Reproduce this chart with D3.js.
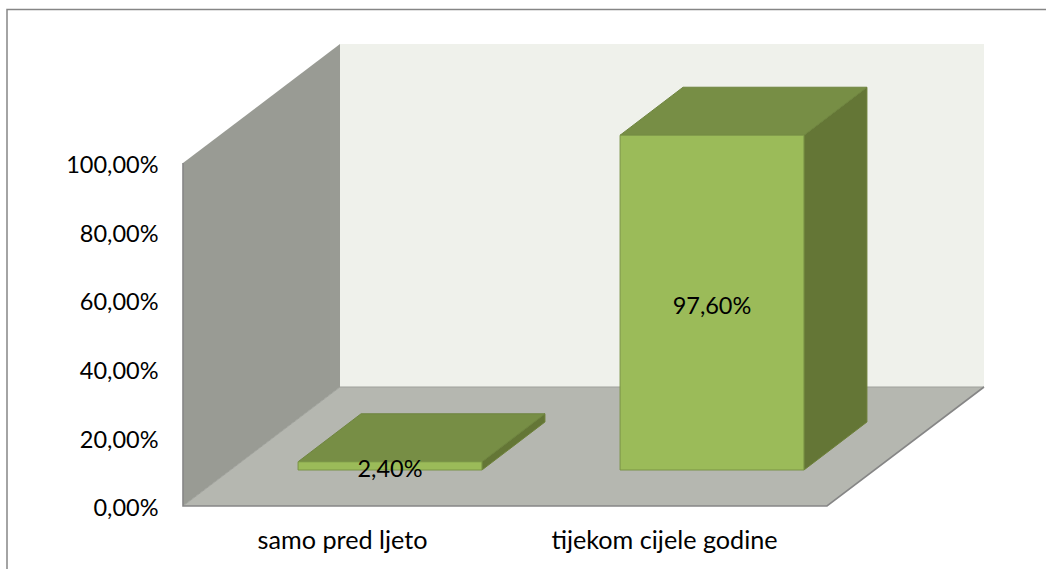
<!DOCTYPE html>
<html>
<head>
<meta charset="utf-8">
<script src="https://cdn.jsdelivr.net/npm/d3@7"></script>
<style>
html, body { margin: 0; padding: 0; background: #fff; }
text { font-family: Lato, "Open Sans", sans-serif; fill: #000; }
</style>
</head>
<body>
<svg id="chart" width="1046" height="569"></svg>
<script>
const categories = ['samo pred ljeto', 'tijekom cijele godine'];
const values = [2.4, 97.6];
const valueLabels = ['2,40%', '97,60%'];
const ticks = [0, 20, 40, 60, 80, 100];
const tickLabels = ['0,00%', '20,00%', '40,00%', '60,00%', '80,00%', '100,00%'];

let svg = d3.select('#chart');

let x = d3.scaleBand().domain(categories).range([183, 827]);
let y = d3.scaleLinear().domain([0, 100]).range([506, 163]);

// Depth of the 3d box, and where the bars stand in it.
const DEPTH_X = 157, DEPTH_Y = -119;
const BAR_X = 46, BAR_Y = -36;
const BAR_DEPTH_X = 63, BAR_DEPTH_Y = -48;
const BAR_WIDTH = x.bandwidth() * 0.571;

let poly = (points, fill, stroke) => {
    svg.append('polygon')
        .attr('points', points.map(p => p.join(',')).join(' '))
        .attr('fill', fill)
        .attr('stroke', stroke || 'none');
};

// Chart frame, the right side runs off the crop.
svg.append('path')
    .attr('d', 'M7,569V9.5H1046')
    .attr('fill', 'none')
    .attr('stroke', '#868686')
    .attr('stroke-width', 1.5);

// Back wall, side wall, floor.
let x0 = x.range()[0], x1 = x.range()[1];
let y0 = y(0), yTop = y(100);
poly([[x0 + DEPTH_X, yTop + DEPTH_Y], [x1 + DEPTH_X, yTop + DEPTH_Y], [x1 + DEPTH_X, y0 + DEPTH_Y], [x0 + DEPTH_X, y0 + DEPTH_Y]], '#eff1eb');
poly([[x0, y0], [x0, yTop], [x0 + DEPTH_X, yTop + DEPTH_Y], [x0 + DEPTH_X, y0 + DEPTH_Y]], '#999b94');
poly([[x0, y0], [x0 + DEPTH_X, y0 + DEPTH_Y], [x1 + DEPTH_X, y0 + DEPTH_Y], [x1, y0]], '#b5b7b0');
svg.append('path')
    .attr('d', `M${x0 + DEPTH_X},${y0 + DEPTH_Y}H${x1 + DEPTH_X}M${x0},${y0}L${x0 + DEPTH_X},${y0 + DEPTH_Y}`)
    .attr('fill', 'none')
    .attr('stroke', '#9fa19b')
    .attr('stroke-width', 1);
svg.append('path')
    .attr('d', `M${x0},${yTop}V${y0}H${x1}L${x1 + DEPTH_X},${y0 + DEPTH_Y}`)
    .attr('fill', 'none')
    .attr('stroke', '#868686')
    .attr('stroke-width', 1.6);

// Bars.
categories.forEach((c, i) => {
    let left = x(c) + (x.bandwidth() - BAR_WIDTH) / 2 + BAR_X;
    let right = left + BAR_WIDTH;
    let base = y(0) + BAR_Y;
    let top = y(values[i]) + BAR_Y;
    poly([[right, base], [right, top], [right + BAR_DEPTH_X, top + BAR_DEPTH_Y], [right + BAR_DEPTH_X, base + BAR_DEPTH_Y]], '#647636', '#6d8039');
    poly([[left, top], [left + BAR_DEPTH_X, top + BAR_DEPTH_Y], [right + BAR_DEPTH_X, top + BAR_DEPTH_Y], [right, top]], '#778e45', '#6f8540');
    poly([[left, base], [left, top], [right, top], [right, base]], '#9bbb59', '#7a9446');
});

// Axis labels.
svg.append('g').selectAll('text')
    .data(ticks)
  .enter().append('text')
    .attr('x', 158.5)
    .attr('y', d => y(d) + 2)
    .attr('dy', '0.35em')
    .attr('text-anchor', 'end')
    .attr('font-size', 23.5)
    .text((d, i) => tickLabels[i]);

svg.append('g').selectAll('text')
    .data(categories)
  .enter().append('text')
    .attr('x', d => x(d) + x.bandwidth() / 2 - 1.5)
    .attr('y', 549)
    .attr('text-anchor', 'middle')
    .attr('font-size', 25.2)
    .text(d => d);

// Data labels.
svg.append('g').selectAll('text')
    .data(categories)
  .enter().append('text')
    .attr('x', d => x(d) + x.bandwidth() / 2 + BAR_X)
    .attr('y', (d, i) => i === 0 ? 476.5 : 314)
    .attr('text-anchor', 'middle')
    .attr('font-size', 23.5)
    .text((d, i) => valueLabels[i]);
</script>
</body>
</html>
